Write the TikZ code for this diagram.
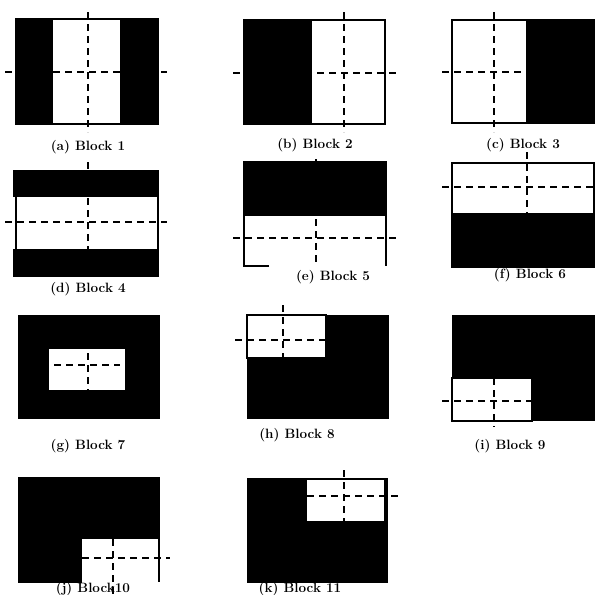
\documentclass[tikz,border=0pt]{standalone}
\usepackage{xcolor}
\usetikzlibrary{calc}

\begin{document}
\begin{tikzpicture}[x=1pt,y=-1pt,
    frame/.style={line width=1.5pt},
    guide/.style={line width=1.8pt,dash pattern=on 7pt off 5pt},
    hole/.style={fill=white},
    lbl/.style={font=\fontsize{13.5}{15}\selectfont\bfseries,inner sep=0pt}]
    \useasboundingbox (0,0) rectangle (595,595);
    % (a) two black bands left and right
    \draw[guide] (5,72) -- (167,72);
    \draw[guide] (88,12) -- (88,132);
    \fill (16,19) rectangle (53,124);
    \fill (120,19) rectangle (158,124);
    \draw[frame] (16,19) rectangle (158,124);
    \node[lbl] (capa) at (88,147) {(a) Block 1};
    % (b) black left half
    \draw[guide] (233,73) -- (397,73);
    \draw[guide] (344,12) -- (344,132);
    \fill (244,20) rectangle (312,124);
    \draw[frame] (244,20) rectangle (385,124);
    \node[lbl] (capb) at (315,145) {(b) Block 2};
    % (c) black right half
    \draw[guide] (442,72) -- (597,72);
    \draw[guide] (494,12) -- (494,132);
    \fill (526,20) rectangle (595,123);
    \draw[frame] (452,20) rectangle (594,123);
    \node[lbl] (capc) at (523,145) {(c) Block 3};
    % (d) black bands top and bottom
    \draw[guide] (5,222) -- (167,222);
    \draw[guide] (88,162) -- (88,262);
    \fill (13,170) rectangle (158,197);
    \fill (13,249) rectangle (158,277);
    \draw[frame] (16,197) -- (16,249);
    \draw[frame] (158,170) -- (158,277);
    \node[lbl] (capd) at (88,289) {(d) Block 4};
    % (e) black top half
    \draw[guide] (233,238) -- (397,238);
    \draw[guide] (316,159) -- (316,265);
    \fill (244,162) rectangle (386,216);
    \draw[frame] (269,266) -- (244,266) -- (244,162) -- (386,162) -- (386,266);
    \node[lbl] (cape) at (333,277) {(e) Block 5};
    % (f) black bottom half
    \draw[guide] (442,187) -- (597,187);
    \draw[guide] (527,152) -- (527,213);
    \fill (452,213) rectangle (594,267);
    \draw[frame] (452,163) rectangle (594,267);
    \node[lbl] (capf) at (530,275) {(f) Block 6};
    % (g) white centre
    \fill (18,315) rectangle (160,419);
    \fill[hole] (49,349) rectangle (125,390);
    \draw[guide] (54,365) -- (120,365);
    \draw[guide] (88,353) -- (88,390);
    \node[lbl] (capg) at (88,446) {(g) Block 7};
    % (h) white top left
    \fill (247,315) rectangle (389,419);
    \fill[hole] (247,315) rectangle (326,358);
    \draw[guide] (235,340) -- (326,340);
    \draw[guide] (283,305) -- (283,358);
    \draw[frame] (247,315) rectangle (326,358);
    \node[lbl] (caph) at (297,435) {(h) Block 8};
    % (i) white bottom left
    \fill (452,315) rectangle (595,421);
    \fill[hole] (452,378) rectangle (532,421);
    \draw[guide] (442,401) -- (532,401);
    \draw[guide] (494,378) -- (494,427);
    \draw[frame] (452,378) rectangle (532,421);
    \node[lbl] (capi) at (510,446) {(i) Block 9};
    % (j) white bottom right
    \fill (18,477) rectangle (159,583);
    \fill[hole] (82,539) rectangle (159,595);
    \draw[guide] (82,558) -- (170,558);
    \draw[guide] (113,539) -- (113,595);
    \draw[frame] (159,477) -- (159,582);
    \node[lbl] (capj) at (93,589) {(j) Block10};
    % (k) white top right
    \fill (247,478) rectangle (388,583);
    \fill[hole] (307,480) rectangle (384,521);
    \draw[guide] (307,496) -- (400,496);
    \draw[guide] (344,470) -- (344,521);
    \node[lbl] (capk) at (300,589) {(k) Block 11};
\end{tikzpicture}
\end{document}
